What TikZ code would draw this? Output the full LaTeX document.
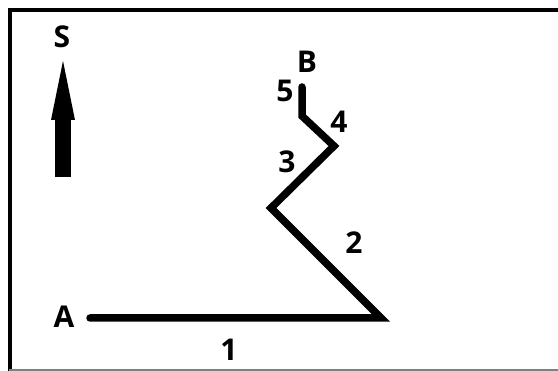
\documentclass[tikz,border=0pt]{standalone}
\usepackage{fontspec}
\setmainfont{Open Sans}
\begin{document}
\begin{tikzpicture}[x=1pt,y=1pt,
  lbl/.style={font=\fontsize{30}{30}\selectfont\bfseries, inner sep=0pt, anchor=center},
  route/.style={line width=7.5pt, line cap=round, line join=miter},
  frameline/.style={line width=4pt}]
\useasboundingbox (0,0) rectangle (558,371);
% frame
\draw[frameline] (9.5,0) -- (9.5,363);
\draw[frameline] (7.5,361) -- (558,361);
\draw[gray, line width=1.2pt] (9,1) -- (558,1);
% north arrow
\fill (55,194) rectangle (71,251);
\fill (51,251) -- (63,310) -- (75,251) -- cycle;
\node[lbl] (S) at (62,334) {S};
% route
\coordinate (pA) at (90,53);
\coordinate (p1) at (381,53);
\coordinate (p2) at (271,163);
\coordinate (p3) at (334,225);
\coordinate (p4) at (302,255);
\coordinate (pB) at (302,284);
\draw[route] (pA) -- (p1) -- (p2) -- (p3) -- (p4) -- (pB);
\node[lbl] (A) at (64,54) {A};
\node[lbl] (B) at (307,309) {B};
\node[lbl] (n1) at (229,21) {1};
\node[lbl] (n2) at (354,128) {2};
\node[lbl] (n3) at (287,209) {3};
\node[lbl] (n4) at (339,249) {4};
\node[lbl] (n5) at (285,280) {5};
\end{tikzpicture}
\end{document}
